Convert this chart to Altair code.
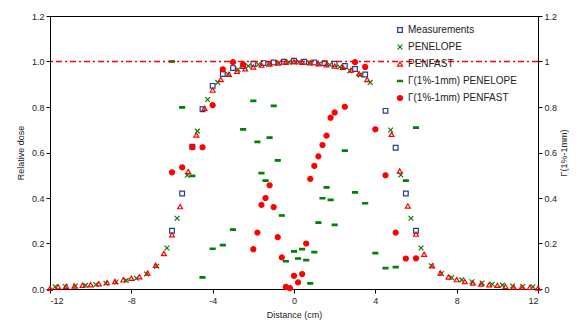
import altair as alt
import pandas as pd

# ---- data ----
series_names = ["Measurements", "PENELOPE", "PENFAST",
                "Γ(1%-1mm) PENELOPE", "Γ(1%-1mm) PENFAST"]

meas_d = [-6, -5.5, -5, -4.5, -4, -3.5, -3, -2.5, -2, -1.5, -1, -0.5, 0,
          0.5, 1, 1.5, 2, 2.5, 3, 3.5, 4.5, 5, 5.5, 6]
meas_v = [0.256, 0.42, 0.625, 0.79, 0.893, 0.945, 0.971, 0.98, 0.99, 0.993, 0.996, 0.999, 1.003,
          0.999, 0.996, 0.993, 0.99, 0.98, 0.967, 0.943, 0.783, 0.621, 0.42, 0.256]

pen_d = [-11.75, -11.25, -10.75, -10.25, -9.75, -9.25, -8.75, -8.25, -7.75, -7.25, -6.75, -6.25,
         -5.75, -5.25, -4.75, -4.25, -3.75, -3.25, -2.75, -2.25, -1.75, -1.25, -0.75, -0.25,
         0.25, 0.75, 1.25, 1.75, 2.25, 2.75, 3.25, 3.75, 4.75, 5.25, 5.75, 6.25,
         6.75, 7.25, 7.75, 8.25, 8.75, 9.25, 9.75, 10.25, 10.75, 11.25, 11.75]
pen_v = [0.010, 0.011, 0.013, 0.016, 0.020, 0.025, 0.031, 0.038, 0.047, 0.066, 0.100, 0.180,
         0.311, 0.500, 0.694, 0.833, 0.908, 0.944, 0.965, 0.980, 0.987, 0.990, 0.994, 0.997,
         0.997, 0.994, 0.990, 0.986, 0.976, 0.959, 0.940, 0.908, 0.699, 0.501, 0.311, 0.180,
         0.102, 0.068, 0.050, 0.040, 0.032, 0.026, 0.021, 0.017, 0.013, 0.011, 0.010]

fast_d = [-12.0, -11.6, -11.2, -10.8, -10.4, -10.0, -9.6, -9.2, -8.8, -8.4, -8.0, -7.6, -7.2,
          -6.8, -6.4, -6.0, -5.6, -5.2, -4.8, -4.4, -4.0, -3.6, -3.2, -2.8, -2.4, -2.0, -1.6,
          -1.2, -0.8, -0.4, 0.0, 0.4, 0.8, 1.2, 1.6, 2.0, 2.4, 2.8, 3.2, 3.6, 4.8, 5.2, 5.6,
          6.0, 6.4, 6.8, 7.2, 7.6, 8.0, 8.4, 8.8, 9.2, 9.6, 10.0, 10.4, 10.8, 11.2, 11.6, 12.0]
fast_v = [0.003, 0.010, 0.011, 0.013, 0.016, 0.019, 0.023, 0.028, 0.033, 0.040, 0.047, 0.054, 0.070,
          0.104, 0.156, 0.238, 0.362, 0.516, 0.677, 0.794, 0.874, 0.921, 0.944, 0.957, 0.968, 0.976, 0.984,
          0.989, 0.993, 0.997, 0.999, 0.997, 0.994, 0.990, 0.986, 0.980, 0.974, 0.962, 0.947, 0.921, 0.680, 0.519, 0.365,
          0.241, 0.153, 0.102, 0.070, 0.053, 0.041, 0.033, 0.026, 0.022, 0.019, 0.016, 0.011, 0.009, 0.009, 0.007, 0.004]

gpen_d = [-6, -5.5, -5, -4.5, -4, -3.5, -3, -2.5, -2, -1.8, -1.6, -1.4, -1.2, -1.0, -0.8, -0.6, -0.4,
          0, 0.2, 0.4, 0.6, 0.8, 1.0, 1.2, 1.4, 1.6, 1.8, 2.0, 2.5, 3.0, 3.5, 4.0, 4.5, 5.0, 5.5, 6.0]
gpen_v = [1.0, 0.798, 0.497, 0.051, 0.177, 0.193, 0.261, 0.702, 0.827, 0.647, 0.509, 0.476, 0.665, 0.805, 0.565, 0.323, 0.122,
          0.165, 0.134, 0.175, 0.127, 0.025, 0.162, 0.292, 0.399, 0.447, 0.392, 0.282, 0.608, 0.425, 0.377, 0.158, 0.092, 0.096, 0.476, 0.709]

gfast_d = [-6, -5.5, -5, -4.5, -4, -3.5, -3, -2.5, -2, -1.8, -1.6, -1.4, -1.2, -1.0, -0.8, -0.6, -0.4, -0.2,
           0, 0.2, 0.4, 0.6, 0.8, 1.0, 1.2, 1.4, 1.6, 1.8, 2.0, 2.5, 3.0, 3.5, 4.0, 4.5, 5.0, 5.5, 6.0]
gfast_v = [0.513, 0.535, 0.623, 0.623, 0.808, 0.966, 0.997, 0.987, 0.175, 0.248, 0.37, 0.40, 0.456, 0.36, 0.228, 0.139, 0.009, 0.004,
           0.058, 0.029, 0.066, 0.2, 0.484, 0.541, 0.583, 0.633, 0.674, 0.753, 0.776, 0.801, 0.997, 0.976, 0.702, 0.50, 0.248, 0.134, 0.135]

reference_level = [1.0]
x_ticks = [-12, -8, -4, 0, 4, 8, 12]
y_ticks = [0, 0.2, 0.4, 0.6, 0.8, 1.0, 1.2]

# ---- build table ----
rows = []
for i, (name, ds, vs) in enumerate(zip(series_names,
                                       [meas_d, pen_d, fast_d, gpen_d, gfast_d],
                                       [meas_v, pen_v, fast_v, gpen_v, gfast_v])):
    for d, v in zip(ds, vs):
        rows.append({"series": name, "d": d, "v": v, "order": i})
df = pd.DataFrame(rows)

x_shape = "M-1,-1L1,1M1,-1L-1,1"
dash_shape = "M-1,-0.3L1,-0.3L1,0.3L-1,0.3Z"

FONT = "Liberation Sans"

points = alt.Chart(df).mark_point(strokeWidth=1.2, opacity=1).encode(
    x=alt.X("d:Q",
            scale=alt.Scale(domain=[-12, 12], nice=False, zero=False),
            axis=alt.Axis(values=x_ticks, labelExpr="'' + datum.value", title="Distance (cm)",
                          labelPadding=3, titlePadding=5)),
    y=alt.Y("v:Q",
            scale=alt.Scale(domain=[0, 1.2], nice=False),
            axis=alt.Axis(values=y_ticks, format=".1f", title="Relative dose",
                          labelPadding=2, titlePadding=6)),
    shape=alt.Shape("series:N",
                    scale=alt.Scale(domain=series_names,
                                    range=["square", x_shape, "triangle-up", dash_shape, "circle"]),
                    legend=alt.Legend(title=None, orient="none", legendX=345, legendY=9,
                                      labelFont=FONT, labelFontSize=10, labelColor="#222222",
                                      labelOffset=3, rowPadding=7, padding=0,
                                      symbolStrokeWidth=1.2)),
    fill=alt.Fill("series:N",
                  scale=alt.Scale(domain=series_names,
                                  range=["transparent", "transparent", "transparent", "#008000", "#FF0000"])),
    stroke=alt.Stroke("series:N",
                      scale=alt.Scale(domain=series_names,
                                      range=["#1F3F8F", "#008000", "#FF0000", "#008000", "#FF0000"])),
    size=alt.Size("series:N",
                  scale=alt.Scale(domain=series_names, range=[22, 25, 30, 49, 22])),
    order=alt.Order("order:Q"),
)

ref_df = pd.DataFrame({"ref": reference_level})
rule = alt.Chart(ref_df).mark_rule(strokeDash=[6, 3, 2, 3], strokeWidth=1.5).encode(
    y=alt.Y("ref:Q",
            scale=alt.Scale(domain=[0, 1.2], nice=False),
            axis=alt.Axis(orient="right", values=y_ticks, format="~g", title="Γ(1%-1mm)",
                          titleAngle=270, titleBaseline="middle", titleX=25,
                          labelPadding=2)),
    stroke=alt.value("#FF0000"),
)

chart = alt.layer(points, rule).resolve_scale(y="independent").properties(
    width=488, height=273,
    padding={"left": 42, "top": 8, "right": 31, "bottom": 31},
    autosize=alt.AutoSizeParams(type="none"),
    background="white",
).configure_view(
    stroke="black", strokeWidth=1
).configure_axis(
    domainColor="black", domainWidth=1, tickColor="black", tickSize=4,
    labelColor="#222222", titleColor="#222222",
    labelFont=FONT, titleFont=FONT, labelFontSize=9, titleFontSize=9,
    titleFontWeight="normal", grid=False,
)

chart.save("out.html", embed_options={"renderer": "svg", "actions": False})
